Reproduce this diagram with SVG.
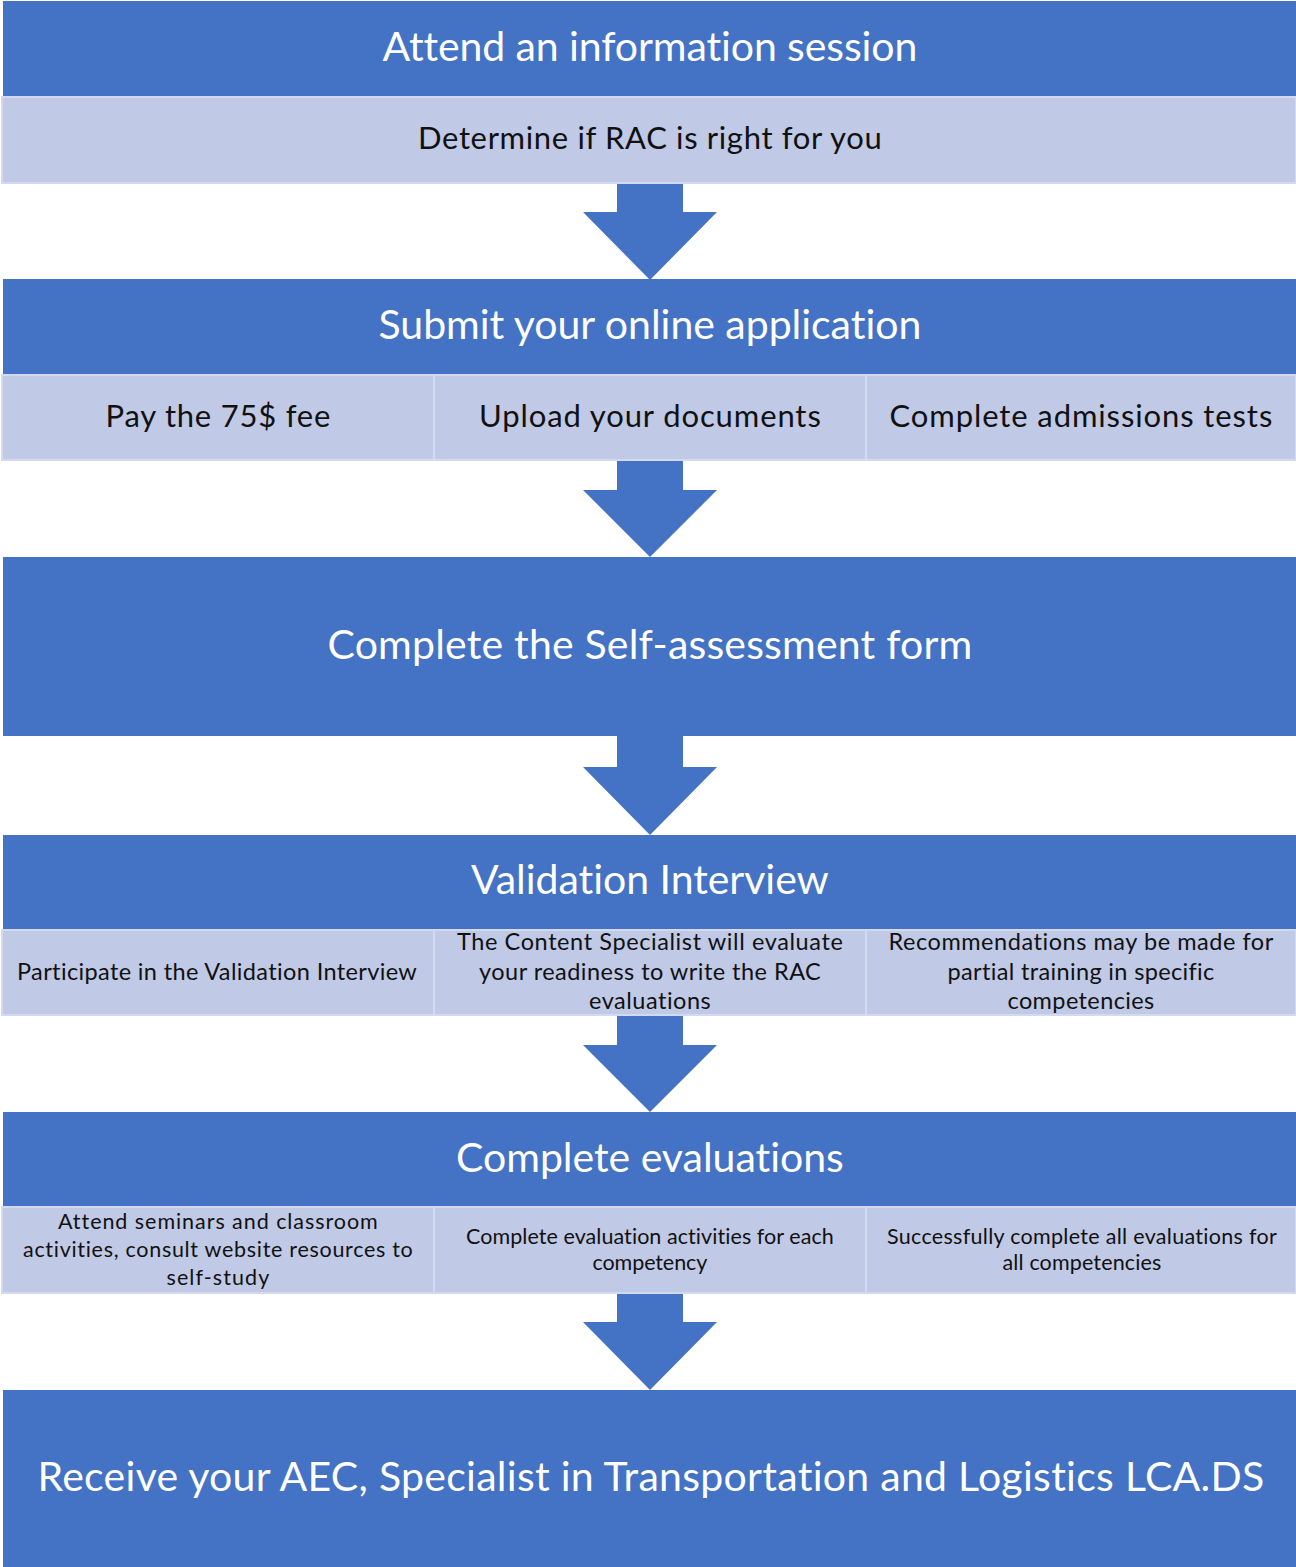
<svg xmlns="http://www.w3.org/2000/svg" width="1296" height="1567" viewBox="0 0 1296 1567">
<style>
.dark{fill:#4472C4;}
.light{fill:#C0C9E5;stroke:#D3DAEF;stroke-width:2;}
.arrow{fill:#4472C4;}
text{font-family:Lato,"Open Sans","Liberation Sans",sans-serif;text-anchor:middle;font-variant-ligatures:none;font-feature-settings:"liga" 0,"clig" 0,"dlig" 0,"calt" 0;letter-spacing:0.2px;}
.t{fill:#FFFFFF;font-size:41px;}
.s{fill:#111111;font-size:31px;}
.m{fill:#111111;font-size:23.5px;}
.n{fill:#111111;font-size:21.5px;}
</style>
<rect width="1296" height="1567" fill="#FFFFFF"/>
<g id="connectors">
<polygon class="arrow" points="617,183 683,183 683,212 717,212 650,280 583,212 617,212"/>
<polygon class="arrow" points="617,460 683,460 683,490 717,490 650,557 583,490 617,490"/>
<polygon class="arrow" points="617,736 683,736 683,767 717,767 650,835 583,767 617,767"/>
<polygon class="arrow" points="617,1015 683,1015 683,1045 717,1045 650,1112 583,1045 617,1045"/>
<polygon class="arrow" points="617,1293 683,1293 683,1322 717,1322 650,1390 583,1322 617,1322"/>
</g>
<g id="step1">
<rect class="dark" x="3" y="1" width="1293" height="96"/>
<text class="t" x="650" y="61" textLength="535" lengthAdjust="spacing">Attend an information session</text>
<rect class="light" x="2" y="97" width="1294" height="86"/>
<text class="s" x="650" y="149" textLength="464" lengthAdjust="spacing">Determine if RAC is right for you</text>
</g>
<g id="step2">
<rect class="dark" x="3" y="279" width="1293" height="96"/>
<text class="t" x="650" y="339" textLength="543" lengthAdjust="spacing">Submit your online application</text>
</g>
<g id="step2a">
<rect class="light" x="2" y="375" width="432" height="85"/>
<text class="s" x="218" y="427" textLength="225" lengthAdjust="spacing">Pay the 75$ fee</text>
</g>
<g id="step2b">
<rect class="light" x="434" y="375" width="432" height="85"/>
<text class="s" x="650" y="427" textLength="342" lengthAdjust="spacing">Upload your documents</text>
</g>
<g id="step2c">
<rect class="light" x="866" y="375" width="430" height="85"/>
<text class="s" x="1081" y="427" textLength="383" lengthAdjust="spacing">Complete admissions tests</text>
</g>
<g id="step3">
<rect class="dark" x="3" y="557" width="1293" height="179"/>
<text class="t" x="650" y="659" textLength="645" lengthAdjust="spacing">Complete the Self-assessment form</text>
</g>
<g id="step4">
<rect class="dark" x="3" y="835" width="1293" height="95"/>
<text class="t" x="650" y="894" textLength="358" lengthAdjust="spacing">Validation Interview</text>
</g>
<g id="step4a">
<rect class="light" x="2" y="930" width="432" height="85"/>
<text class="m" x="217" y="980" textLength="400" lengthAdjust="spacing">Participate in the Validation Interview</text>
</g>
<g id="step4b">
<rect class="light" x="434" y="930" width="432" height="85"/>
<text class="m" x="650" y="950" textLength="386" lengthAdjust="spacing">The Content Specialist will evaluate</text>
<text class="m" x="650" y="980" textLength="342" lengthAdjust="spacing">your readiness to write the RAC</text>
<text class="m" x="650" y="1009" textLength="122" lengthAdjust="spacing">evaluations</text>
</g>
<g id="step4c">
<rect class="light" x="866" y="930" width="430" height="85"/>
<text class="m" x="1081" y="950" textLength="385" lengthAdjust="spacing">Recommendations may be made for</text>
<text class="m" x="1081" y="980" textLength="267" lengthAdjust="spacing">partial training in specific</text>
<text class="m" x="1081" y="1009" textLength="147" lengthAdjust="spacing">competencies</text>
</g>
<g id="step5">
<rect class="dark" x="3" y="1112" width="1293" height="95"/>
<text class="t" x="650" y="1172" textLength="388" lengthAdjust="spacing">Complete evaluations</text>
</g>
<g id="step5a">
<rect class="light" x="2" y="1207" width="432" height="86"/>
<text class="n" x="218" y="1229" textLength="320" lengthAdjust="spacing">Attend seminars and classroom</text>
<text class="n" x="218" y="1257" textLength="390" lengthAdjust="spacing">activities, consult website resources to</text>
<text class="n" x="218" y="1285" textLength="103" lengthAdjust="spacing">self-study</text>
</g>
<g id="step5b">
<rect class="light" x="434" y="1207" width="432" height="86"/>
<text class="n" x="650" y="1244" textLength="368" lengthAdjust="spacing">Complete evaluation activities for each</text>
<text class="n" x="650" y="1270" textLength="115" lengthAdjust="spacing">competency</text>
</g>
<g id="step5c">
<rect class="light" x="866" y="1207" width="430" height="86"/>
<text class="n" x="1082" y="1244" textLength="390" lengthAdjust="spacing">Successfully complete all evaluations for</text>
<text class="n" x="1082" y="1270" textLength="159" lengthAdjust="spacing">all competencies</text>
</g>
<g id="step6">
<rect class="dark" x="3" y="1390" width="1293" height="177"/>
<text class="t" x="651" y="1491" textLength="1227" lengthAdjust="spacing">Receive your AEC, Specialist in Transportation and Logistics LCA.DS</text>
</g>
</svg>
